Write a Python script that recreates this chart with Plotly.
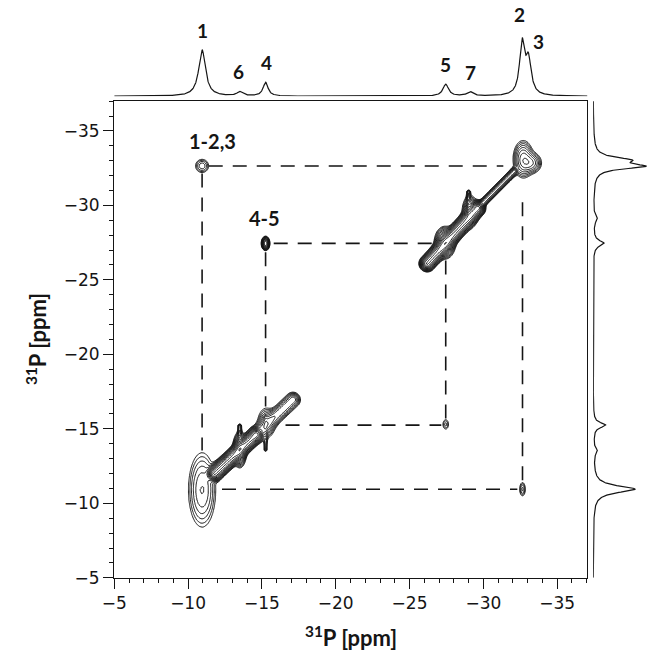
import numpy as np
import plotly.graph_objects as go

# ---------------- 1D 31P spectrum (projection) ----------------
peak_labels = ["1", "6", "4", "5", "7", "2", "3"]
peak_ppm    = [-10.95, -13.5, -15.25, -27.45, -29.1, -32.62, -33.05]
peak_height = [0.78, 0.07, 0.23, 0.20, 0.07, 0.86, 0.58]
peak_fwhm   = [0.55, 0.45, 0.40, 0.45, 0.50, 0.40, 0.45]

# ---------------- 2D contour features ----------------
# Gaussian blobs: diagonal and cross peaks (ppm, ppm, widths, amplitude rel. to lowest level)
blob_x   = [-10.95, -15.30, -32.70, -33.25, -10.95, -15.25, -27.45, -32.65, -13.50, -27.40, -29.10]
blob_y   = [-10.90, -15.40, -33.10, -32.85, -32.65, -27.45, -15.30, -10.95, -13.60, -27.50, -29.60]
blob_sx  = [0.50, 0.32, 0.33, 0.35, 0.28, 0.11, 0.15, 0.13, 0.20, 0.30, 0.25]
blob_sy  = [1.35, 0.55, 0.60, 0.35, 0.28, 0.18, 0.25, 0.30, 0.50, 0.45, 0.50]
blob_amp = [5.5, 5.0, 9.0, 7.0, 3.5, 40.0, 2.2, 3.0, 20.0, 20.0, 10.0]

# Ridge segments along the diagonal
seg_x0  = [-11.8, -14.6, -13.5, -15.25, -26.2, -29.6, -29.0]
seg_y0  = [-12.0, -14.6, -13.7, -13.60, -26.1, -29.8, -29.3]
seg_x1  = [-14.6, -17.1, -13.5, -15.25, -29.6, -32.1, -29.0]
seg_y1  = [-14.6, -16.95, -15.2, -15.80, -29.8, -32.3, -30.9]
seg_w   = [0.20, 0.24, 0.07, 0.07, 0.20, 0.12, 0.07]
seg_amp = [60.0, 10.0, 5.0, 3.0, 60.0, 12.0, 5.0]

# Correlation squares (peak pairs 1-2,3 and 4-5)
square_ppm = [(-10.95, -32.65), (-15.25, -27.45)]
cross_labels = ["1-2,3", "4-5"]

# axis ticks
x_ticks = [-5, -10, -15, -20, -25, -30, -35]
y_ticks = [-5, -10, -15, -20, -25, -30, -35]

# ---------------- style ----------------
X_RANGE = [-5, -37.05]
Y_RANGE = [-5, -37.0]
INK = "#151515"
dash_trims = [[(0.45, 1.3), (0.5, 2.6), (1.35, 0.35), (0.6, 1.95)],
              [(0.55, 0.5), (0.6, 1.25), (1.35, 0.3), (0.45, 0.5)]]
label_dx = {"1": 0.0, "6": 0.1, "4": -0.05, "5": 0.0, "7": -0.05, "2": 0.2, "3": -0.7}
label_dy = {"1": 6, "6": 6, "4": 6, "5": 6, "7": 6, "2": 10, "3": -2}
cross_dx = [-0.7, 0.05]

# ---------------- build spectra ----------------
ppm_1d = np.linspace(-5, -37.05, 1600)

def spectrum(p):
    s = np.zeros_like(p)
    for c, h, w in zip(peak_ppm, peak_height, peak_fwhm):
        s += h / (1 + ((p - c) / (w / 2)) ** 2)
    return s

spec = spectrum(ppm_1d)

gx = np.arange(-5, -37.06, -0.06)
gy = np.arange(-5, -37.01, -0.06)
X, Y = np.meshgrid(gx, gy)
I = np.zeros_like(X)
for x0, y0, sx, sy, a in zip(blob_x, blob_y, blob_sx, blob_sy, blob_amp):
    I += a * np.exp(-((X - x0) ** 2) / (2 * sx ** 2) - ((Y - y0) ** 2) / (2 * sy ** 2))
for x0, y0, x1, y1, w, a in zip(seg_x0, seg_y0, seg_x1, seg_y1, seg_w, seg_amp):
    dx, dy = x1 - x0, y1 - y0
    L2 = dx * dx + dy * dy
    t = np.clip(((X - x0) * dx + (Y - y0) * dy) / L2, 0, 1)
    d2 = (X - (x0 + t * dx)) ** 2 + (Y - (y0 + t * dy)) ** 2
    I += a * np.exp(-d2 / (2 * w ** 2))
Z = np.round(np.log10(I + 1e-3), 2)

fig = go.Figure()

fig.add_trace(go.Contour(
    x=np.round(gx, 3), y=np.round(gy, 3), z=Z,
    contours=dict(start=0.0, end=np.log10(150), size=np.log10(1.4), coloring="lines"),
    colorscale=[[0, INK], [1, INK]], showscale=False,
    line=dict(width=1.0), xaxis="x", yaxis="y", hoverinfo="skip"))

# dashed correlation lines
for (pa, pb), trims in zip(square_ppm, dash_trims):
    segs = [((pa, pb), (pb, pb)), ((pa, pb), (pa, pa)),
            ((pa, pa), (pb, pa)), ((pb, pa), (pb, pb))]
    for ((x0, y0), (x1, y1)), (ts, te) in zip(segs, trims):
        vx, vy = x1 - x0, y1 - y0
        L = np.hypot(vx, vy)
        ux, uy = vx / L, vy / L
        fig.add_trace(go.Scatter(
            x=[x0 + ux * ts, x1 - ux * te], y=[y0 + uy * ts, y1 - uy * te],
            mode="lines", line=dict(color=INK, width=1.6, dash="14px,10px"),
            xaxis="x", yaxis="y", hoverinfo="skip", showlegend=False))

# top projection
fig.add_trace(go.Scatter(x=ppm_1d, y=spec, mode="lines",
                         line=dict(color=INK, width=1.2),
                         xaxis="x2", yaxis="y2", showlegend=False, hoverinfo="skip"))
# right projection
fig.add_trace(go.Scatter(x=spec, y=ppm_1d, mode="lines",
                         line=dict(color=INK, width=1.2),
                         xaxis="x3", yaxis="y3", showlegend=False, hoverinfo="skip"))

W, H = 650, 660
xd = [103.3 / W, 586.2 / W]
yd = [(H - 586.7) / H, (H - 102.7) / H]

annotations = []
for lab, c in zip(peak_labels, peak_ppm):
    annotations.append(dict(
        x=c + label_dx[lab], y=float(spectrum(np.array([c]))[0]), xref="x2", yref="y2",
        text=f"<b>{lab}</b>", showarrow=False, xanchor="center", yanchor="bottom",
        yshift=label_dy[lab], font=dict(family="Lato", size=19, color=INK)))

for lab, (pa, pb), ddx in zip(cross_labels, square_ppm, cross_dx):
    annotations.append(dict(
        x=pa + ddx, y=pb, xref="x", yref="y", text=f"<b>{lab}</b>",
        showarrow=False, xanchor="center", yanchor="bottom", yshift=11,
        font=dict(family="Lato", size=20, color=INK)))

annotations.append(dict(x=(xd[0] + xd[1]) / 2, y=(H - 646) / H, xref="paper", yref="paper",
                        text="<b><sup>31</sup>P [ppm]</b>", showarrow=False,
                        xanchor="center", yanchor="middle",
                        font=dict(family="Lato", size=22, color=INK)))
annotations.append(dict(x=24 / W, y=(yd[0] + yd[1]) / 2,
                        xref="paper", yref="paper",
                        text="<b><sup>31</sup>P [ppm]</b>", showarrow=False, textangle=-90,
                        xanchor="center", yanchor="middle",
                        font=dict(family="Lato", size=22, color=INK)))

axis_common = dict(showgrid=False, zeroline=False, showline=True, linecolor=INK, linewidth=1.4,
                   mirror=True, ticks="outside", ticklen=10, tickwidth=1.3, tickcolor=INK,
                   tickfont=dict(family="DejaVu Sans", size=17, color=INK),
                   minor=dict(dtick=1, ticks="outside", ticklen=4, tickwidth=1, tickcolor=INK))

fig.update_layout(
    width=W, height=H, margin=dict(l=0, r=0, t=0, b=0),
    paper_bgcolor="white", plot_bgcolor="white", showlegend=False,
    xaxis=dict(domain=xd, range=X_RANGE, tickvals=x_ticks, anchor="y", **axis_common),
    yaxis=dict(domain=yd, range=Y_RANGE, tickvals=y_ticks, anchor="x", **axis_common),
    xaxis2=dict(domain=xd, range=X_RANGE, anchor="y2", visible=False),
    yaxis2=dict(domain=[(H - 97.7) / H, (H - 18) / H], range=[0, 1.32], anchor="x2", visible=False),
    xaxis3=dict(domain=[592 / W, 1.0], range=[0, 1.06], anchor="y3", visible=False),
    yaxis3=dict(domain=yd, range=Y_RANGE, anchor="x3", visible=False),
    annotations=annotations,
)

fig.write_html("out.html")
